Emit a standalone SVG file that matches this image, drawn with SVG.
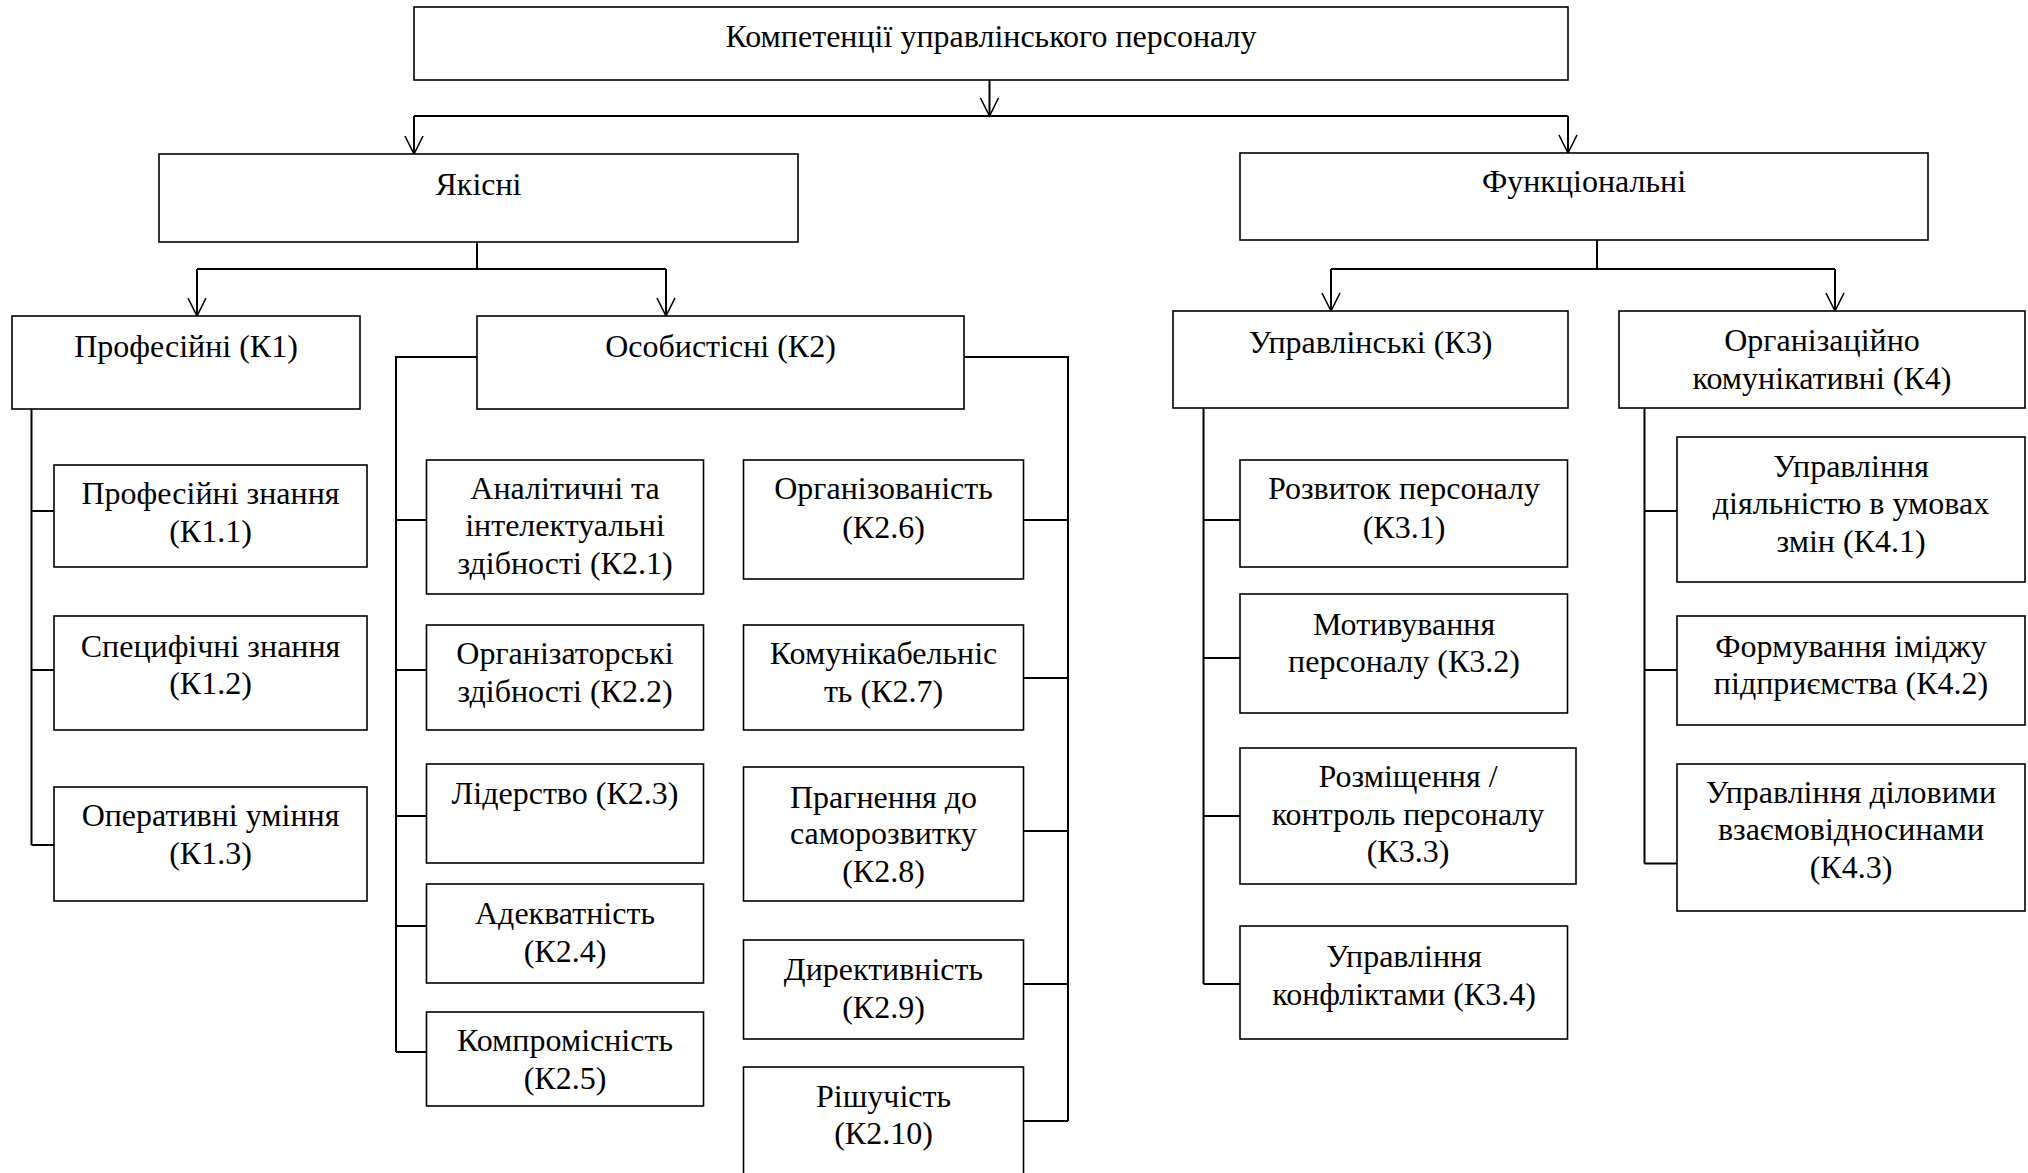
<svg xmlns="http://www.w3.org/2000/svg" width="2028" height="1173" viewBox="0 0 2028 1173">
<defs>
<style>
.box{fill:#fff;stroke:#000;stroke-width:1.6}
.t{font-family:"Liberation Serif","Times New Roman",serif;font-size:32px;fill:#000;text-anchor:middle}
.ln{fill:none;stroke:#000;stroke-width:2}
</style>
<marker id="v" markerUnits="userSpaceOnUse" markerWidth="40" markerHeight="40" viewBox="-20 -20 40 40" refX="0" refY="0" orient="auto">
<path d="M-18,-9 L0,0 L-18,9" fill="none" stroke="#000" stroke-width="1.6"/>
</marker>
</defs>
<rect width="2028" height="1173" fill="#fff"/>
<g id="connectors">
<path class="ln" d="M989.5,80 V116" marker-end="url(#v)"/>
<path class="ln" d="M414,116 H1568"/>
<path class="ln" d="M414,116 V154" marker-end="url(#v)"/>
<path class="ln" d="M1568,116 V153" marker-end="url(#v)"/>
<path class="ln" d="M477,242 V269 M197,269 H666"/>
<path class="ln" d="M197,269 V316" marker-end="url(#v)"/>
<path class="ln" d="M666,269 V316" marker-end="url(#v)"/>
<path class="ln" d="M1597,240 V269 M1331,269 H1835"/>
<path class="ln" d="M1331,269 V311" marker-end="url(#v)"/>
<path class="ln" d="M1835,269 V311" marker-end="url(#v)"/>
<path class="ln" d="M31.5,409 V845 M31.5,511 H54 M31.5,670 H54 M31.5,845 H54"/>
<path class="ln" d="M477,357 H396 V1052 M396,520 H426.5 M396,670 H426.5 M396,816 H426.5 M396,926 H426.5 M396,1052 H426.5"/>
<path class="ln" d="M964,357 H1068 V1121 M1023.5,520 H1068 M1023.5,678 H1068 M1023.5,831 H1068 M1023.5,984 H1068 M1023.5,1121 H1068"/>
<path class="ln" d="M1203.5,408 V984 M1203.5,520 H1240 M1203.5,658 H1240 M1203.5,816 H1240 M1203.5,984 H1240"/>
<path class="ln" d="M1644.5,408 V863.5 M1644.5,511 H1677 M1644.5,670 H1677 M1644.5,863.5 H1677"/>
</g>
<g id="title"><rect class="box" x="414" y="7" width="1154" height="73"/><text class="t" x="991" y="47">Компетенції управлінського персоналу</text></g>
<g id="yakisni"><rect class="box" x="159" y="154" width="639" height="88"/><text class="t" x="478.5" y="195">Якісні</text></g>
<g id="funktsionalni"><rect class="box" x="1240" y="153" width="688" height="87"/><text class="t" x="1584" y="192">Функціональні</text></g>
<g id="k1"><rect class="box" x="12" y="316" width="348" height="93"/><text class="t" x="186" y="357">Професійні (К1)</text></g>
<g id="k2"><rect class="box" x="477" y="316" width="487" height="93"/><text class="t" x="720.5" y="357">Особистісні (К2)</text></g>
<g id="k3"><rect class="box" x="1173" y="311" width="395" height="97"/><text class="t" x="1370.5" y="353">Управлінські (К3)</text></g>
<g id="k4"><rect class="box" x="1619" y="311" width="406" height="97"/><text class="t" x="1822" y="351">Організаційно</text><text class="t" x="1822" y="389">комунікативні (К4)</text></g>
<g id="k1-1"><rect class="box" x="54" y="465" width="313" height="102"/><text class="t" x="210.5" y="504">Професійні знання</text><text class="t" x="210.5" y="542">(К1.1)</text></g>
<g id="k1-2"><rect class="box" x="54" y="616" width="313" height="114"/><text class="t" x="210.5" y="657">Специфічні знання</text><text class="t" x="210.5" y="694">(К1.2)</text></g>
<g id="k1-3"><rect class="box" x="54" y="787" width="313" height="114"/><text class="t" x="210.5" y="826">Оперативні уміння</text><text class="t" x="210.5" y="864">(К1.3)</text></g>
<g id="k2-1"><rect class="box" x="426.5" y="460" width="277" height="134"/><text class="t" x="565" y="499">Аналітичні та</text><text class="t" x="565" y="536">інтелектуальні</text><text class="t" x="565" y="574">здібності (К2.1)</text></g>
<g id="k2-2"><rect class="box" x="426.5" y="625" width="277" height="105"/><text class="t" x="565" y="664">Організаторські</text><text class="t" x="565" y="702">здібності (К2.2)</text></g>
<g id="k2-3"><rect class="box" x="426.5" y="764" width="277" height="99"/><text class="t" x="565" y="804">Лідерство (К2.3)</text></g>
<g id="k2-4"><rect class="box" x="426.5" y="884" width="277" height="99"/><text class="t" x="565" y="924">Адекватність</text><text class="t" x="565" y="962">(К2.4)</text></g>
<g id="k2-5"><rect class="box" x="426.5" y="1012" width="277" height="94"/><text class="t" x="565" y="1051">Компромісність</text><text class="t" x="565" y="1089">(К2.5)</text></g>
<g id="k2-6"><rect class="box" x="743.5" y="460" width="280" height="119"/><text class="t" x="883.5" y="499">Організованість</text><text class="t" x="883.5" y="538">(К2.6)</text></g>
<g id="k2-7"><rect class="box" x="743.5" y="625" width="280" height="105"/><text class="t" x="883.5" y="664">Комунікабельніс</text><text class="t" x="883.5" y="702">ть (К2.7)</text></g>
<g id="k2-8"><rect class="box" x="743.5" y="767" width="280" height="134"/><text class="t" x="883.5" y="808">Прагнення до</text><text class="t" x="883.5" y="844">саморозвитку</text><text class="t" x="883.5" y="882">(К2.8)</text></g>
<g id="k2-9"><rect class="box" x="743.5" y="940" width="280" height="99"/><text class="t" x="883.5" y="980">Директивність</text><text class="t" x="883.5" y="1018">(К2.9)</text></g>
<g id="k2-10"><rect class="box" x="743.5" y="1067" width="280" height="130"/><text class="t" x="883.5" y="1107">Рішучість</text><text class="t" x="883.5" y="1144">(К2.10)</text></g>
<g id="k3-1"><rect class="box" x="1240" y="460" width="327.5" height="107"/><text class="t" x="1404" y="499">Розвиток персоналу</text><text class="t" x="1404" y="538">(К3.1)</text></g>
<g id="k3-2"><rect class="box" x="1240" y="594" width="327.5" height="119"/><text class="t" x="1404" y="635">Мотивування</text><text class="t" x="1404" y="672">персоналу (К3.2)</text></g>
<g id="k3-3"><rect class="box" x="1240" y="748" width="336" height="136"/><text class="t" x="1408" y="787">Розміщення /</text><text class="t" x="1408" y="825">контроль персоналу</text><text class="t" x="1408" y="862">(К3.3)</text></g>
<g id="k3-4"><rect class="box" x="1240" y="926" width="327.5" height="113"/><text class="t" x="1404" y="967">Управління</text><text class="t" x="1404" y="1005">конфліктами (К3.4)</text></g>
<g id="k4-1"><rect class="box" x="1677" y="437" width="348" height="145"/><text class="t" x="1851" y="477">Управління</text><text class="t" x="1851" y="514">діяльністю в умовах</text><text class="t" x="1851" y="552">змін (К4.1)</text></g>
<g id="k4-2"><rect class="box" x="1677" y="616" width="348" height="109"/><text class="t" x="1851" y="657">Формування іміджу</text><text class="t" x="1851" y="694">підприємства (К4.2)</text></g>
<g id="k4-3"><rect class="box" x="1677" y="764" width="348" height="147"/><text class="t" x="1851" y="803">Управління діловими</text><text class="t" x="1851" y="840">взаємовідносинами</text><text class="t" x="1851" y="878">(К4.3)</text></g>
</svg>
